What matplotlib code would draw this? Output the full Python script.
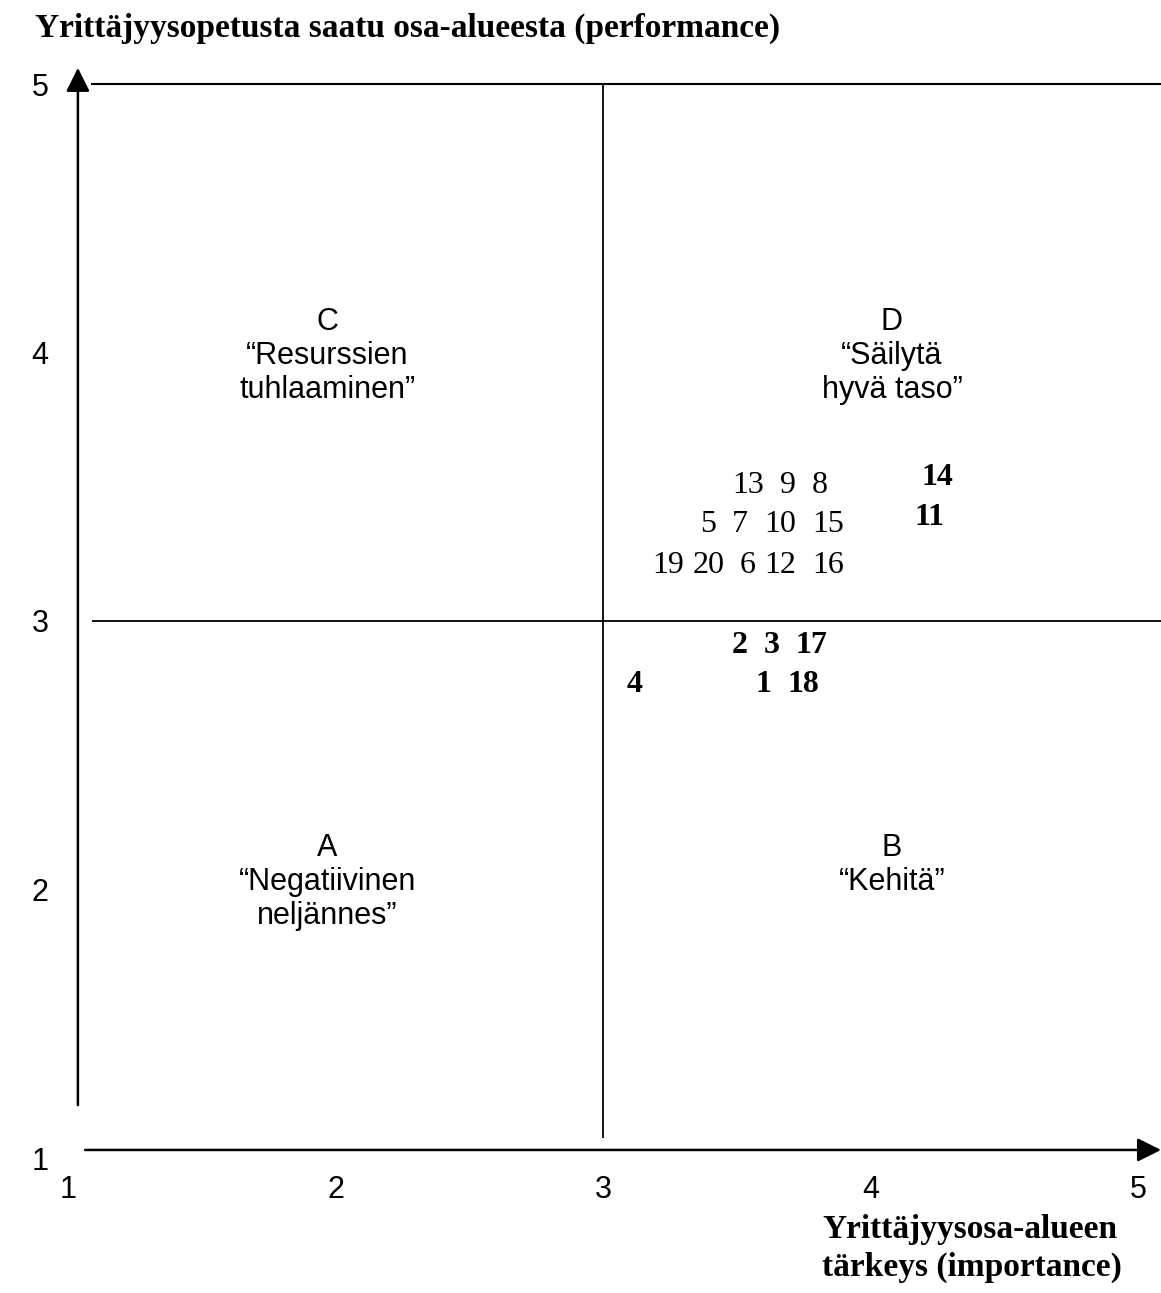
import matplotlib
matplotlib.use("Agg")
import matplotlib.pyplot as plt

# ---- data ----
item_ids = ["13", "9", "8", "14",
            "5", "7", "10", "15", "11",
            "19", "20", "6", "12", "16",
            "2", "3", "17",
            "4", "1", "18"]
importance = [3.542, 3.692, 3.811, 4.252,
              3.393, 3.512, 3.662, 3.841, 4.222,
              3.243, 3.393, 3.542, 3.662, 3.841,
              3.512, 3.632, 3.781,
              3.120, 3.598, 3.748]
performance = [3.518, 3.518, 3.518, 3.547,
               3.372, 3.372, 3.372, 3.372, 3.399,
               3.220, 3.220, 3.220, 3.220, 3.220,
               2.922, 2.922, 2.922,
               2.777, 2.777, 2.777]
bold_items = ["14", "11", "2", "3", "17", "4", "1", "18"]

tick_values = [1, 2, 3, 4, 5]
tick_labels = ["1", "2", "3", "4", "5"]

quadrant_labels = ["C\n\u201cResurssien\ntuhlaaminen\u201d",
                   "D\n\u201cSäilytä\nhyvä taso\u201d",
                   "A\n\u201cNegatiivinen\nneljännes\u201d",
                   "B\n\u201cKehitä\u201d"]
quadrant_x = [1.97, 4.08, 1.97, 4.08]
quadrant_y = [4.17, 4.17, 2.21, 2.21]
midpoint = 3

title_text = "Yrittäjyysopetusta saatu osa-alueesta (performance)"
xlabel_text = "Yrittäjyysosa-alueen\ntärkeys (importance)"

# ---- figure ----
W, H = 1161, 1293
fig = plt.figure(figsize=(W / 100, H / 100), dpi=100)
fig.patch.set_facecolor("white")
ax = fig.add_axes([68 / W, 135 / H, 1070 / W, 1074 / H])
ax.set_xlim(1, 5)
ax.set_ylim(1, 5)
for s in ax.spines.values():
    s.set_visible(False)

sans = ["Liberation Sans", "DejaVu Sans"]
serif = ["Liberation Serif", "DejaVu Serif"]

ax.set_xticks(tick_values)
ax.set_xticklabels(tick_labels, fontsize=22, family=sans)
ax.set_yticks(tick_values)
ax.set_yticklabels(tick_labels, fontsize=22, family=sans)
ax.tick_params(axis="x", length=0, pad=12)
ax.tick_params(axis="y", length=0, pad=14)

# axes with arrows
arrow_kw = dict(arrowstyle="-|>", lw=1.8, color="black", mutation_scale=36,
                shrinkA=0, shrinkB=0)
ax.annotate("", xy=(1.037, 5.060), xytext=(1.037, 1.197),
            arrowprops=arrow_kw, annotation_clip=False)
ax.annotate("", xy=(5.086, 1.030), xytext=(1.064, 1.030),
            arrowprops=arrow_kw, annotation_clip=False)

# frame top line and quadrant lines
ax.plot([1.086, 5.086], [5.0, 5.0], color="black", lw=1.5, clip_on=False,
        solid_capstyle="butt")
ax.plot([midpoint, midpoint], [1.074, 5.0], color="black", lw=1.3,
        clip_on=False, solid_capstyle="butt")
ax.plot([1.090, 5.086], [midpoint, midpoint], color="black", lw=1.3,
        clip_on=False, solid_capstyle="butt")

# quadrant labels
for lab, qx, qy in zip(quadrant_labels, quadrant_x, quadrant_y):
    ax.text(qx, qy, lab, ha="center", va="top", fontsize=22, family=sans,
            linespacing=1.17)

# item numbers
for name, xv, yv in zip(item_ids, importance, performance):
    ax.text(xv, yv, name, ha="center", va="center_baseline", fontsize=23,
            family=serif,
            fontweight="bold" if name in bold_items else "normal")

# titles
fig.text(35 / W, 1 - 28 / H, title_text, ha="left", va="center",
         fontsize=24, fontweight="bold", family=serif)
fig.text(822 / W, 1 - 1214 / H, xlabel_text, ha="left", va="top",
         fontsize=24, fontweight="bold", family=serif, linespacing=1.3)

fig.savefig("out.png", dpi=100, facecolor="white")
